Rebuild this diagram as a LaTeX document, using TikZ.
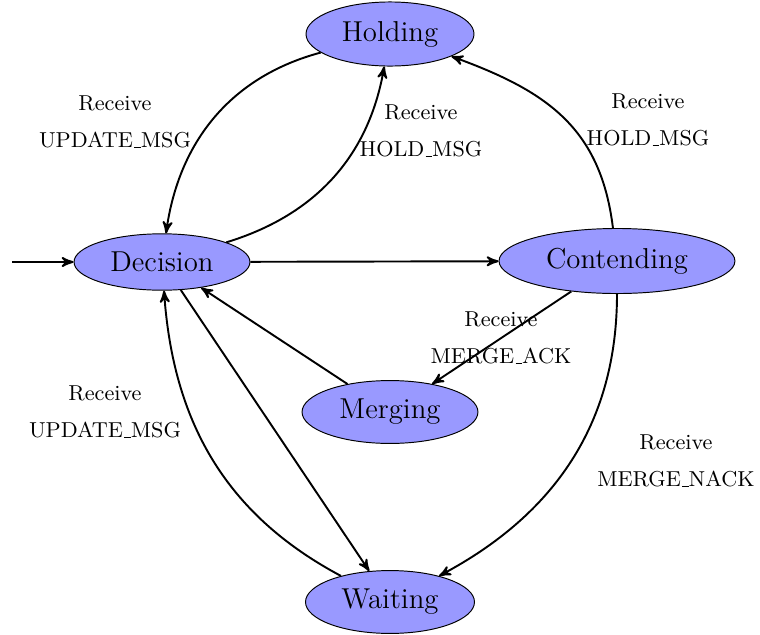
\documentclass[tikz,border=0pt]{standalone}
\usetikzlibrary{shapes.geometric, arrows}
\newcommand\usc{\leavevmode\kern.06em\vbox{\hrule width.3em}}
\begin{document}
\begin{tikzpicture}[x=0.41667pt, y=-0.41667pt,
  state/.style={ellipse, draw, fill=blue!40, font=\large, inner sep=0pt},
  trans/.style={->, >=stealth', thick},
  lbl/.style={font=\small, align=center}]
\useasboundingbox (0,0) rectangle (760,635);

% states
\node[state, minimum width=70pt,   minimum height=26.7pt]  (hold) at (390,34)  {Holding};
\node[state, minimum width=73.3pt, minimum height=23.5pt]  (dec)  at (162,262) {Decision};
\node[state, minimum width=98.3pt, minimum height=27.1pt]  (cont) at (617,261) {Contending};
\node[state, minimum width=73.3pt, minimum height=26.2pt]  (merg) at (390,412) {Merging};
\node[state, minimum width=70.4pt, minimum height=26.2pt]  (wait) at (390,602) {Waiting};

% initial arrow
\coordinate (init) at (12,262);
\draw[trans] (init) -- (dec);

% transitions
\draw[trans] (hold) to[out=195, in=82] (dec);
\draw[trans] (dec)  to[out=17, in=260] (hold);
\draw[trans] (dec)  -- (cont);
\draw[trans] (cont) to[out=97, in=-20, looseness=1.1] (hold);
\draw[trans] (cont) -- (merg);
\draw[trans] (cont) to[out=-90, in=28] (wait);
\draw[trans] (merg) -- (dec);
\draw[trans] (dec)  -- (wait);
\draw[trans] (wait) to[out=152, in=-86] (dec);

% transition labels
\node[lbl] (l1) at (115,122) {Receive\\[4.3pt]UPDATE\usc MSG};
\node[lbl] (l2) at (421,131) {Receive\\[4.3pt]HOLD\usc MSG};
\node[lbl] (l3) at (648,120) {Receive\\[4.3pt]HOLD\usc MSG};
\node[lbl] (l4) at (501,338) {Receive\\[4.3pt]MERGE\usc ACK};
\node[lbl] (l5) at (676,461) {Receive\\[4.3pt]MERGE\usc NACK};
\node[lbl] (l6) at (105,412) {Receive\\[4.3pt]UPDATE\usc MSG};
\end{tikzpicture}
\end{document}
